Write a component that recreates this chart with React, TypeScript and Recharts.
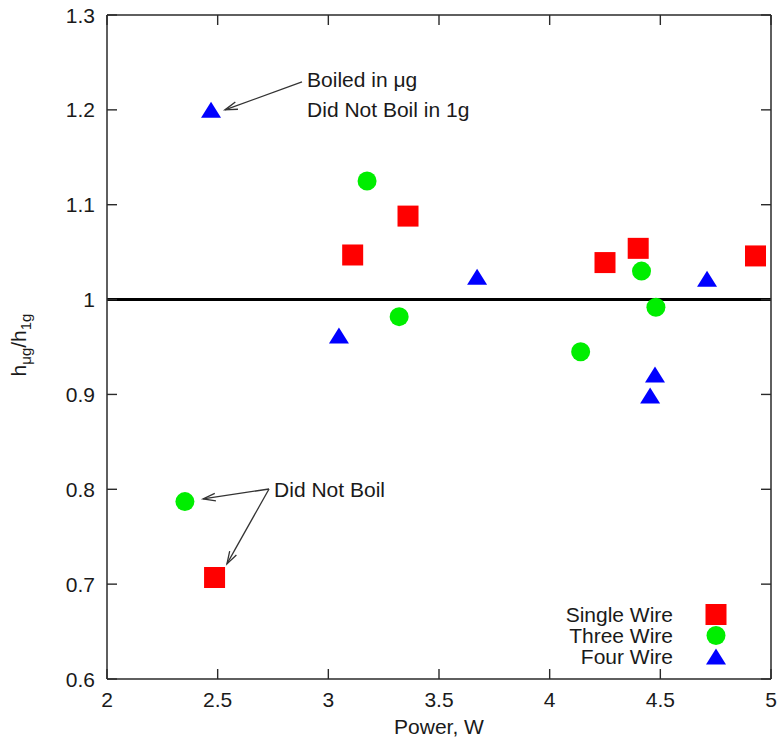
import React from "react"
import {
  ScatterChart,
  Scatter,
  XAxis,
  YAxis,
  ReferenceLine,
  ReferenceDot,
  Legend,
} from "recharts"

// Power (W) and h_ug/h_1g
const singleWirePower = [3.11, 3.36, 4.25, 4.4, 4.93, 2.486]
const singleWireRatio = [1.047, 1.088, 1.039, 1.054, 1.046, 0.707]

const threeWirePower = [3.175, 3.32, 4.14, 4.415, 4.48, 2.352]
const threeWireRatio = [1.125, 0.982, 0.945, 1.03, 0.992, 0.787]

const fourWirePower = [2.47, 3.048, 3.672, 4.476, 4.454, 4.711]
const fourWireRatio = [1.2, 0.962, 1.024, 0.921, 0.899, 1.022]

const xTicks = [2, 2.5, 3, 3.5, 4, 4.5, 5]
const yTicks = [0.6, 0.7, 0.8, 0.9, 1, 1.1, 1.2, 1.3]

const seriesNames = ["Single Wire", "Three Wire", "Four Wire"]

// annotation arrows, [fromX, fromY, toX, toY] in data units
const arrows = [
  [2.881, 1.2294, 2.533, 1.2],
  [2.732, 0.8003, 2.434, 0.7898],
  [2.732, 0.8003, 2.542, 0.7213],
]
const notes = [
  { x: 2.904, y: 1.2315, text: "Boiled in μg" },
  { x: 2.904, y: 1.2, text: "Did Not Boil in 1g" },
  { x: 2.755, y: 0.8003, text: "Did Not Boil" },
]

const FONT = "'Liberation Sans', Arial, sans-serif"
const FS = 21
const TEXT = "#1a1a1a"
const AXIS = "#2a2a2a"

const toPoints = (xs: number[], ys: number[]) => xs.map((x, i) => ({ x, y: ys[i] }))

const SquareMark = ({ cx, cy }: any) => (
  <rect x={cx - 10.5} y={cy - 10.5} width={21} height={21} fill="#ff0000" />
)
const CircleMark = ({ cx, cy }: any) => <circle cx={cx} cy={cy} r={9.5} fill="#00ee00" />
const TriangleMark = ({ cx, cy }: any) => (
  <path d={`M${cx},${cy - 8} L${cx + 10},${cy + 8} L${cx - 10},${cy + 8} Z`} fill="#0000ff" />
)

const marks: Record<string, (p: any) => React.ReactElement> = {
  "Single Wire": SquareMark,
  "Three Wire": CircleMark,
  "Four Wire": TriangleMark,
}

const fmtX = (v: number) => String(v)
const fmtY = (v: number) => (v === 1 ? "1" : v.toFixed(1))

// inward tick marks, drawn together with the labels
const BottomTick = ({ x, y, payload }: any) => (
  <g>
    <path d={`M${x},${y} V${y - 10}`} stroke={AXIS} strokeWidth={1.4} fill="none" />
    <text x={x} y={y + 28} textAnchor="middle" fontSize={FS} fontFamily={FONT} fill={TEXT}>
      {fmtX(payload.value)}
    </text>
  </g>
)
const TopTick = ({ x, y }: any) => (
  <path d={`M${x},${y} V${y + 10}`} stroke={AXIS} strokeWidth={1.4} fill="none" />
)
const LeftTick = ({ x, y, payload }: any) => (
  <g>
    <path d={`M${x},${y} H${x + 10}`} stroke={AXIS} strokeWidth={1.4} fill="none" />
    <text x={x - 12} y={y + 7.5} textAnchor="end" fontSize={FS} fontFamily={FONT} fill={TEXT}>
      {fmtY(payload.value)}
    </text>
  </g>
)
const RightTick = ({ x, y }: any) => (
  <path d={`M${x},${y} H${x - 10}`} stroke={AXIS} strokeWidth={1.4} fill="none" />
)

const Arrow = (props: any) => {
  const { x1, y1, x2, y2 } = props
  const ang = Math.atan2(y2 - y1, x2 - x1)
  const len = 13
  const spread = 0.3
  const ax = x2 - len * Math.cos(ang - spread)
  const ay = y2 - len * Math.sin(ang - spread)
  const bx = x2 - len * Math.cos(ang + spread)
  const by = y2 - len * Math.sin(ang + spread)
  return (
    <g stroke="#333" strokeWidth={1.3} fill="none">
      <line x1={x1} y1={y1} x2={x2} y2={y2} />
      <polyline points={`${ax},${ay} ${x2},${y2} ${bx},${by}`} />
    </g>
  )
}

const YLabel = ({ viewBox }: any) => {
  const cx = viewBox.x + 26
  const cy = viewBox.y + viewBox.height / 2 - 2
  return (
    <text
      x={cx}
      y={cy}
      transform={`rotate(-90, ${cx}, ${cy})`}
      textAnchor="middle"
      fontSize={FS}
      fontFamily={FONT}
      fill={TEXT}
    >
      h<tspan fontSize={15} dy={5}>μg</tspan>
      <tspan dy={-5}>/h</tspan>
      <tspan fontSize={15} dy={5}>1g</tspan>
    </text>
  )
}

const XLabel = ({ viewBox }: any) => (
  <text
    x={viewBox.x + viewBox.width / 2}
    y={viewBox.y + 55}
    textAnchor="middle"
    fontSize={FS}
    fontFamily={FONT}
    fill={TEXT}
  >
    Power, W
  </text>
)

const LegendBox = () => (
  <div style={{ fontFamily: FONT, fontSize: FS, color: TEXT }}>
    {seriesNames.map((name) => {
      const Mark = marks[name]
      return (
        <div key={name} style={{ display: "flex", alignItems: "center", height: 21 }}>
          <span style={{ width: 113, textAlign: "right", lineHeight: "21px" }}>{name}</span>
          <svg width={50} height={21} style={{ marginLeft: 17 }}>
            <Mark cx={26} cy={10.5} />
          </svg>
        </div>
      )
    })}
  </div>
)

export default function App() {
  return (
    <div style={{ position: "absolute", left: 0, top: 0, background: "#fff" }}>
      <ScatterChart width={780} height={744} margin={{ top: 14, right: 8, bottom: 0, left: 0 }}>
        <XAxis
          xAxisId="bottom"
          dataKey="x"
          type="number"
          domain={[2, 5]}
          ticks={xTicks}
          allowDataOverflow
          height={65}
          tickSize={0}
          tickMargin={0}
          tick={<BottomTick />}
          axisLine={{ stroke: AXIS, strokeWidth: 1.5 }}
          label={<XLabel />}
        />
        <XAxis
          xAxisId="top"
          orientation="top"
          dataKey="x"
          type="number"
          domain={[2, 5]}
          ticks={xTicks}
          allowDataOverflow
          height={1}
          tickSize={0}
          tickMargin={0}
          tick={<TopTick />}
          axisLine={{ stroke: AXIS, strokeWidth: 1.5 }}
        />
        <YAxis
          yAxisId="left"
          dataKey="y"
          type="number"
          domain={[0.6, 1.3]}
          ticks={yTicks}
          allowDataOverflow
          width={107}
          tickSize={0}
          tickMargin={0}
          tick={<LeftTick />}
          axisLine={{ stroke: AXIS, strokeWidth: 1.5 }}
          label={<YLabel />}
        />
        <YAxis
          yAxisId="right"
          orientation="right"
          dataKey="y"
          type="number"
          domain={[0.6, 1.3]}
          ticks={yTicks}
          allowDataOverflow
          width={1}
          tickSize={0}
          tickMargin={0}
          tick={<RightTick />}
          axisLine={{ stroke: AXIS, strokeWidth: 1.5 }}
        />

        <ReferenceLine xAxisId="bottom" yAxisId="left" y={1} stroke="#000" strokeWidth={3} />

        {arrows.map((a, i) => (
          <ReferenceLine
            key={`arrow-${i}`}
            xAxisId="bottom"
            yAxisId="left"
            segment={[
              { x: a[0], y: a[1] },
              { x: a[2], y: a[3] },
            ]}
            shape={<Arrow />}
          />
        ))}
        {notes.map((n, i) => (
          <ReferenceDot
            key={`note-${i}`}
            xAxisId="bottom"
            yAxisId="left"
            x={n.x}
            y={n.y}
            r={0}
            shape={(p: any) => (
              <text x={p.cx} y={p.cy + 7.5} fontSize={FS} fontFamily={FONT} fill={TEXT}>
                {n.text}
              </text>
            )}
          />
        ))}

        <Scatter
          name="Single Wire"
          xAxisId="bottom"
          yAxisId="left"
          data={toPoints(singleWirePower, singleWireRatio)}
          shape={<SquareMark />}
          isAnimationActive={false}
        />
        <Scatter
          name="Three Wire"
          xAxisId="bottom"
          yAxisId="left"
          data={toPoints(threeWirePower, threeWireRatio)}
          shape={<CircleMark />}
          isAnimationActive={false}
        />
        <Scatter
          name="Four Wire"
          xAxisId="bottom"
          yAxisId="left"
          data={toPoints(fourWirePower, fourWireRatio)}
          shape={<TriangleMark />}
          isAnimationActive={false}
        />

        <Legend
          layout="vertical"
          align="center"
          verticalAlign="middle"
          content={<LegendBox />}
          wrapperStyle={{ left: 560, top: 604, width: 200, height: 63 }}
        />
      </ScatterChart>
    </div>
  )
}
